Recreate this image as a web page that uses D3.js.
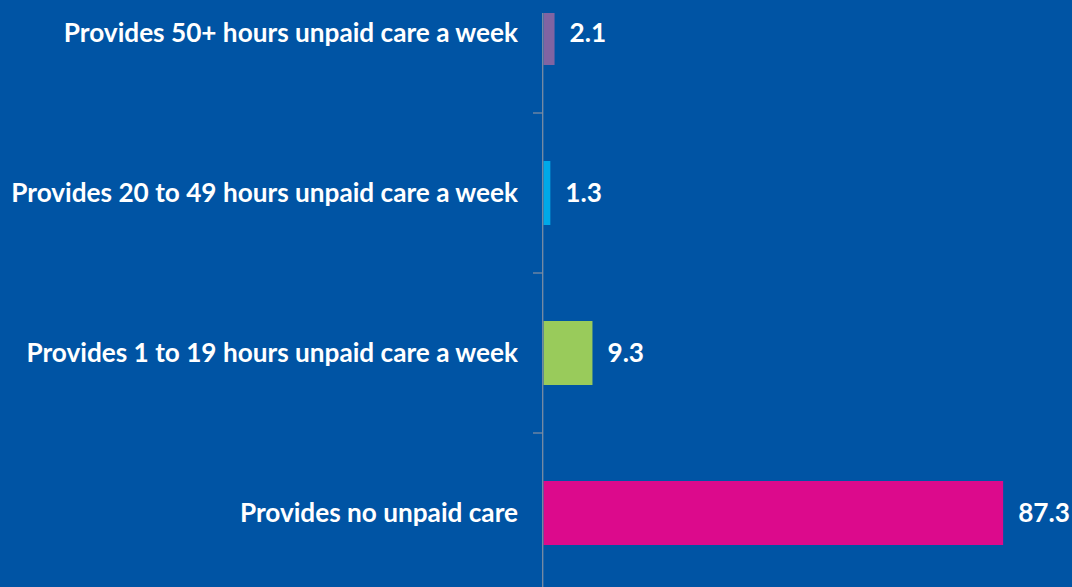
<!DOCTYPE html>
<html><head><meta charset="utf-8">
<script src="https://cdn.jsdelivr.net/npm/d3@7"></script>
<style>
html,body{margin:0;padding:0;background:#0054A4;}
svg{display:block;}
</style></head>
<body>
<svg id="chart" width="1072" height="587"></svg>
<script>
const categories = [
  "Provides 50+ hours unpaid care a week",
  "Provides 20 to 49 hours unpaid care a week",
  "Provides 1 to 19 hours unpaid care a week",
  "Provides no unpaid care"
];
const values = [2.1, 1.3, 9.3, 87.3];
const colors = ["#8064A2", "#00A9E8", "#99CB5B", "#DC0A8C"];

const W = 1072, H = 587;
const svg = d3.select("#chart");
svg.append("rect").attr("width", W).attr("height", H).attr("fill", "#0054A4");

const plotTop = 13;
const x = d3.scaleLinear().domain([0, 100]).range([543.5, 1070]);
const y = d3.scaleBand().domain(categories).range([-47, 593]).paddingInner(0.6).paddingOuter(0.3);

svg.append("defs").append("clipPath").attr("id", "clip")
  .append("rect").attr("x", 0).attr("y", plotTop).attr("width", W).attr("height", H - plotTop);

const g = svg.append("g").attr("clip-path", "url(#clip)");

g.selectAll("rect.bar").data(values).join("rect")
  .attr("class", "bar")
  .attr("x", x(0))
  .attr("y", (d, i) => y(categories[i]))
  .attr("width", d => x(d) - x(0))
  .attr("height", y.bandwidth())
  .attr("fill", (d, i) => colors[i]);

// axis line
const axisColor = "#7A8CA3";
svg.append("line").attr("x1", 542.7).attr("x2", 542.7).attr("y1", plotTop).attr("y2", H)
  .attr("stroke", axisColor).attr("stroke-width", 1.3);
// ticks between categories
const step = y.step();
categories.slice(0, -1).forEach((c, i) => {
  const ty = y(c) + y.bandwidth() / 2 + step / 2;
  svg.append("line").attr("x1", 533).attr("x2", 543).attr("y1", ty).attr("y2", ty)
    .attr("stroke", axisColor).attr("stroke-width", 1.3);
});

const font = "Lato, 'Open Sans', sans-serif";
const labels = svg.selectAll("text.cat").data(categories).join("text")
  .attr("class", "cat")
  .attr("x", 518)
  .attr("y", d => y(d) + y.bandwidth() / 2)
  .attr("dy", "0.35em")
  .attr("text-anchor", "end")
  .attr("fill", "#ffffff")
  .attr("font-family", font)
  .attr("font-weight", "bold")
  .attr("font-size", 22)
  .text(d => d);

// fit font size so widest label spans ~455px
let maxW = 0;
labels.each(function(){ maxW = Math.max(maxW, this.getComputedTextLength()); });
const fs = 22 * 507 / maxW;
labels.attr("font-size", fs);

svg.selectAll("text.val").data(values).join("text")
  .attr("class", "val")
  .attr("x", d => x(d) + 15)
  .attr("y", (d, i) => y(categories[i]) + y.bandwidth() / 2)
  .attr("dy", "0.35em")
  .attr("fill", "#ffffff")
  .attr("font-family", font)
  .attr("font-weight", "bold")
  .attr("font-size", fs)
  .text(d => d.toFixed(1));
</script>
</body></html>
